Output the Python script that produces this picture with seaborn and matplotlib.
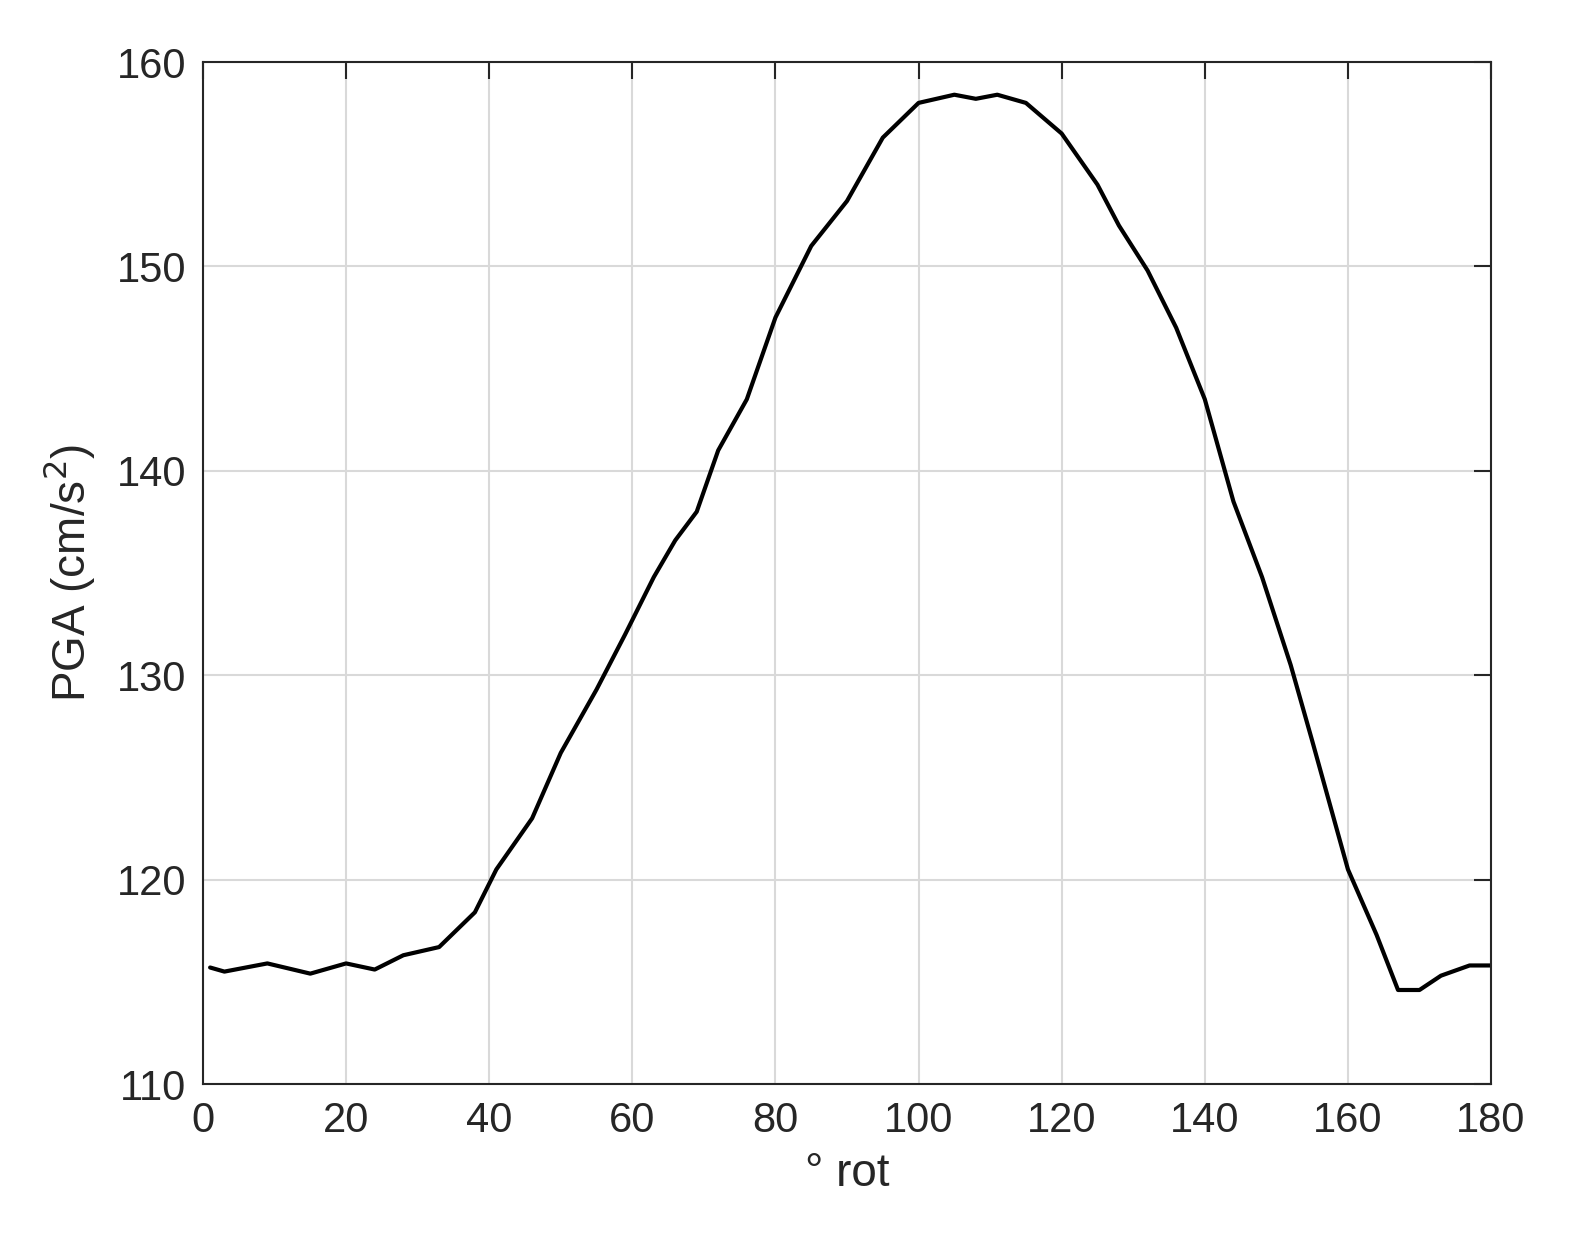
import matplotlib
matplotlib.use("Agg")
import matplotlib.pyplot as plt
import seaborn as sns
import pandas as pd

rot = [1, 3, 9, 15, 20, 24, 28, 33, 38, 41, 46, 50, 55, 59, 63, 66, 69, 72, 76, 80, 85, 90, 95, 100, 105, 108, 111, 115, 120, 125, 128, 132, 136, 140, 144, 148, 152, 155, 160, 164, 167, 170, 173, 177, 180]
pga = [115.7, 115.5, 115.9, 115.4, 115.9, 115.6, 116.3, 116.7, 118.4, 120.5, 123.0, 126.2, 129.3, 132.0, 134.8, 136.6, 138.0, 141.0, 143.5, 147.5, 151.0, 153.2, 156.3, 158.0, 158.4, 158.2, 158.4, 158.0, 156.5, 154.0, 152.0, 149.8, 147.0, 143.5, 138.5, 134.8, 130.5, 126.8, 120.5, 117.3, 114.6, 114.6, 115.3, 115.8, 115.8]
xticks = [0, 20, 40, 60, 80, 100, 120, 140, 160, 180]
yticks = [110, 120, 130, 140, 150, 160]

sns.set_style("white")
plt.rcParams['font.family'] = ['Liberation Sans', 'DejaVu Sans']
df = pd.DataFrame({"rot": rot, "pga": pga})

fig = plt.figure(figsize=(15.77, 12.58), dpi=100)
ax = fig.add_axes([0.1287, 0.1383, 0.8168, 0.8124])
sns.lineplot(data=df, x="rot", y="pga", ax=ax, color="black", linewidth=3)
ax.set_xlim(0, 180)
ax.set_ylim(110, 160)
ax.set_xticks(xticks)
ax.set_yticks(yticks)
ax.grid(True, color="#d9d9d9", linewidth=1.5)
ax.tick_params(direction="in", length=12, width=1.5, labelsize=30, top=True, right=True, colors="#262626", pad=12)
for s in ax.spines.values():
    s.set_color("#262626")
    s.set_linewidth(1.5)
ax.set_xlabel("° rot", fontsize=33, color="#262626", labelpad=8)
ax.set_ylabel("PGA (cm/s$^2$)", fontsize=33, color="#262626", labelpad=14)
fig.savefig("out.png", dpi=100, facecolor="white")
